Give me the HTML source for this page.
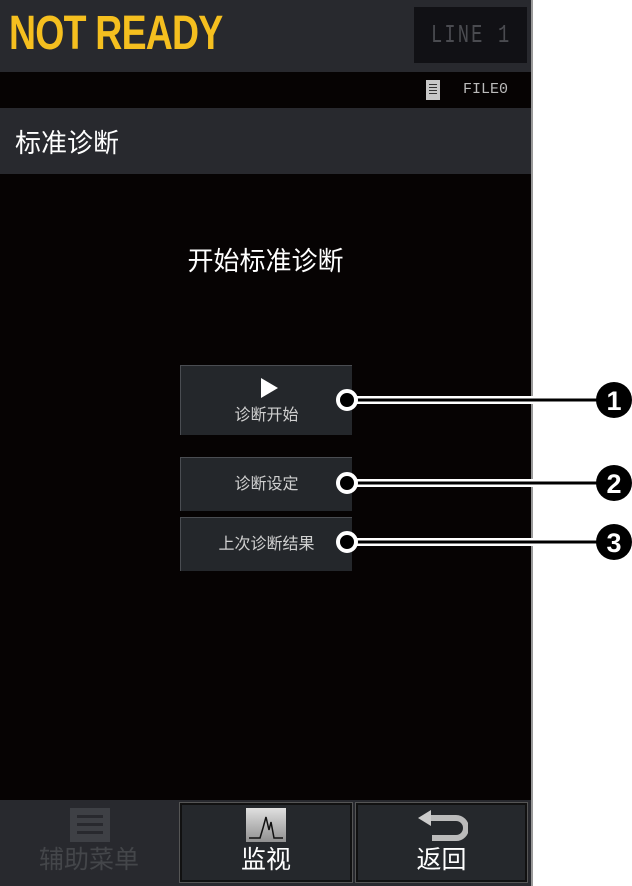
<!DOCTYPE html>
<html><head><meta charset="utf-8"><style>
*{margin:0;padding:0;box-sizing:border-box}
body{width:632px;height:886px;background:#fff;position:relative;overflow:hidden;font-family:"Liberation Sans","Noto Sans CJK SC",sans-serif}
.a{position:absolute}
.btn{position:absolute;background:#24272b;border-top:1px solid #4a4d52;border-left:1px solid #4a4d52;color:#d0d0d0;font-size:16px;text-align:center}
</style></head><body>
<div class="a" style="left:0;top:0;width:531px;height:886px;background:#060303"></div>
<div class="a" style="left:531px;top:0;width:2px;height:886px;background:#9a9a9a"></div>
<div class="a" style="left:0;top:0;width:531px;height:72px;background:#28292e"></div>
<div class="a" style="left:9px;top:10px;color:#f5bf1f;font-weight:bold;font-size:48px;line-height:48px;transform:scaleX(0.78);transform-origin:left top;letter-spacing:-1px">NOT READY</div>
<div class="a" style="left:414px;top:7px;width:113px;height:56px;background:#111115"></div>
<div class="a" style="left:431px;top:20px;color:#4a4b50;font-family:'Liberation Mono',monospace;font-size:26px;line-height:30px;transform:scaleX(0.72);transform-origin:left top;letter-spacing:3px">LINE 1</div>
<div class="a" style="left:426px;top:80px;width:14px;height:20px;background:#c8c8c8"></div>
<div class="a" style="left:429px;top:84px;width:8px;height:1px;background:#333;box-shadow:0 3px #333,0 6px #333,0 9px #333"></div>
<div class="a" style="left:463px;top:80px;color:#bbb;font-family:'Liberation Mono',monospace;font-size:15px;line-height:20px">FILE0</div>
<div class="a" style="left:0;top:108px;width:531px;height:66px;background:#28292e"></div>
<div class="a" style="left:15px;top:127px;color:#fff;font-size:26px;line-height:32px">标准诊断</div>
<div class="a" style="left:0;top:245px;width:531px;text-align:center;color:#fff;font-size:26px;line-height:32px">开始标准诊断</div>
<div class="btn" style="left:180px;top:365px;width:172px;height:70px"><div style="width:0;height:0;border-left:17px solid #fff;border-top:10px solid transparent;border-bottom:10px solid transparent;margin:12px auto 0;position:relative;left:3px"></div><div style="margin-top:8px;line-height:20px">诊断开始</div></div>
<div class="btn" style="left:180px;top:457px;width:172px;height:54px;line-height:54px">诊断设定</div>
<div class="btn" style="left:180px;top:517px;width:172px;height:54px;line-height:54px">上次诊断结果</div>
<svg class="a" style="left:0;top:0" width="632" height="886">
<g stroke="#fff" stroke-width="8" fill="none"><line x1="347" y1="400" x2="610" y2="400"/><line x1="347" y1="483" x2="610" y2="483"/><line x1="347" y1="542" x2="610" y2="542"/></g>
<g stroke="#000" stroke-width="3" fill="none"><line x1="347" y1="400" x2="610" y2="400"/><line x1="347" y1="483" x2="610" y2="483"/><line x1="347" y1="542" x2="610" y2="542"/></g>
<g fill="#000" stroke="#fff" stroke-width="4"><circle cx="347" cy="400" r="9"/><circle cx="347" cy="483" r="9"/><circle cx="347" cy="542" r="9"/></g>
<g fill="#000"><circle cx="614" cy="400" r="18"/><circle cx="614" cy="483" r="18"/><circle cx="614" cy="542" r="18"/></g>
<g fill="#fff" font-family="Liberation Sans" font-weight="bold" font-size="27" text-anchor="middle"><text x="614" y="410">1</text><text x="614" y="493">2</text><text x="614" y="552">3</text></g>
</svg>
<div class="a" style="left:0;top:800px;width:531px;height:86px;background:#28292e"></div>
<div class="a" style="left:70px;top:808px;width:40px;height:34px;background:#3e4045"></div>
<div class="a" style="left:77px;top:815px;width:26px;height:3px;background:#28292e;box-shadow:0 8px #28292e,0 16px #28292e"></div>
<div class="a" style="left:0;top:843px;width:178px;text-align:center;color:#44464a;font-size:25px;line-height:34px">辅助菜单</div>
<div class="a" style="left:180px;top:803px;width:172px;height:79px;background:#25282c;border:2px solid #111;outline:1px solid #555"></div>
<div class="a" style="left:246px;top:808px;width:40px;height:34px;background:linear-gradient(#e0e0e0,#909090)"></div>
<svg class="a" style="left:246px;top:808px" width="40" height="34"><polyline points="3,30 14,30 17,20 20,9 23,22 25,14 28,30 37,30" fill="none" stroke="#111" stroke-width="1.5"/></svg>
<div class="a" style="left:180px;top:843px;width:172px;text-align:center;color:#fff;font-size:25px;line-height:34px">监视</div>
<div class="a" style="left:356px;top:803px;width:171px;height:79px;background:#25282c;border:2px solid #111;outline:1px solid #555"></div>
<svg class="a" style="left:418px;top:808px" width="50" height="34"><path d="M10 10 H38 A10 10 0 0 1 38 30 H14" fill="none" stroke="#bbb" stroke-width="6"/><polygon points="0,10 13,2 13,18" fill="#ccc"/></svg>
<div class="a" style="left:356px;top:843px;width:171px;text-align:center;color:#fff;font-size:25px;line-height:34px">返回</div>
</body></html>
